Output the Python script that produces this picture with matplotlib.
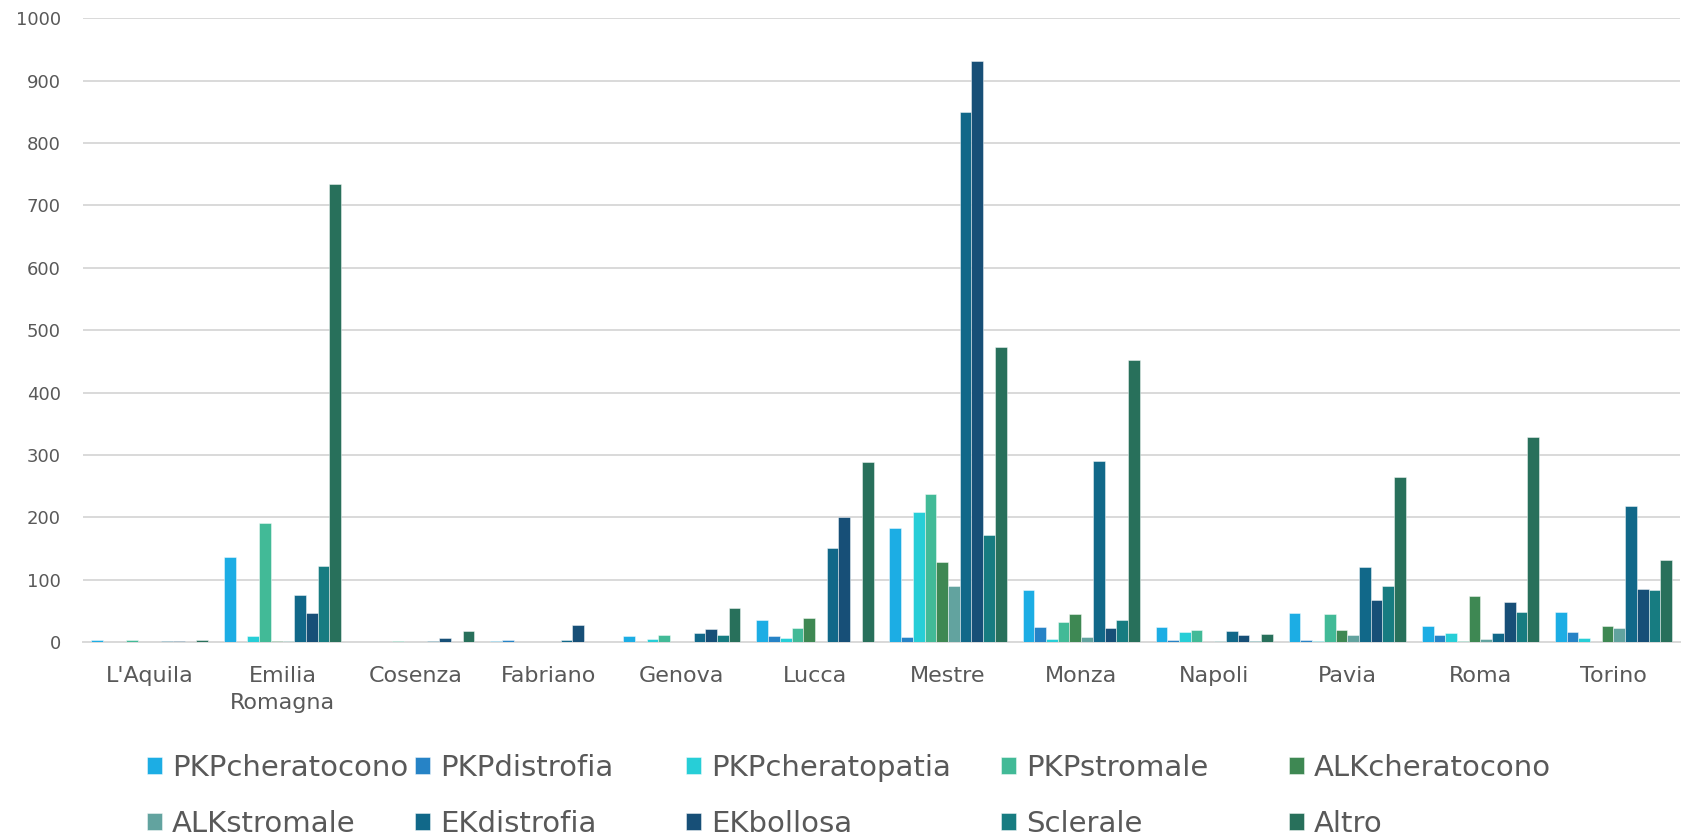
import matplotlib
matplotlib.use("Agg")
import matplotlib.pyplot as plt
import numpy as np

plt.rcParams['font.family'] = ['DejaVu Sans']

cities = ["L'Aquila", "Emilia\nRomagna", "Cosenza", "Fabriano", "Genova", "Lucca",
          "Mestre", "Monza", "Napoli", "Pavia", "Roma", "Torino"]

series_names = ["PKPcheratocono", "PKPdistrofia", "PKPcheratopatia", "PKPstromale",
                "ALKcheratocono", "ALKstromale", "EKdistrofia", "EKbollosa",
                "Sclerale", "Altro"]

pkp_cheratocono = [4, 136, 0, 1, 9, 36, 182, 83, 24, 46, 26, 48]
pkp_distrofia = [0, 0, 0, 4, 0, 10, 8, 24, 3, 4, 11, 16]
pkp_cheratopatia = [0, 10, 0, 0, 5, 7, 209, 5, 16, 1, 15, 6]
pkp_stromale = [3, 190, 1, 0, 12, 22, 237, 32, 20, 45, 2, 0]
alk_cheratocono = [0, 2, 0, 0, 0, 39, 128, 45, 0, 20, 74, 26]
alk_stromale = [0, 1, 0, 0, 0, 0, 89, 8, 1, 12, 5, 22]
ek_distrofia = [1, 75, 2, 3, 14, 150, 850, 290, 18, 120, 14, 218]
ek_bollosa = [1, 47, 7, 28, 21, 201, 932, 22, 12, 67, 64, 85]
sclerale = [0, 122, 0, 0, 11, 0, 172, 36, 2, 89, 48, 84]
altro = [4, 735, 18, 0, 54, 289, 473, 452, 13, 265, 329, 131]

values = [pkp_cheratocono, pkp_distrofia, pkp_cheratopatia, pkp_stromale,
          alk_cheratocono, alk_stromale, ek_distrofia, ek_bollosa, sclerale, altro]

colors = ["#1CADE4", "#2683C6", "#27CED7", "#42BA97", "#3E8853",
          "#62A39F", "#116889", "#174F77", "#177C81", "#28705B"]

W, H = 1690, 840
fig = plt.figure(figsize=(W / 100, H / 100), dpi=100)
ax = fig.add_axes([83 / W, 1 - 642 / H, (1680 - 83) / W, (642 - 18.3) / H])

x = np.arange(len(cities))
bw = 0.088
handles = []
for j, (name, vals, c) in enumerate(zip(series_names, values, colors)):
    b = ax.bar(x + (j - 4.5) * bw, vals, bw, color=c, label=name,
               edgecolor=(1, 1, 1, 0.45), linewidth=0.7, zorder=3)
    handles.append(b)

ax.set_xlim(-0.5, len(cities) - 0.5)
ax.set_ylim(0, 1000)
ax.set_yticks(np.arange(0, 1001, 100))
ax.set_xticks(x)
ax.set_xticklabels(cities, linespacing=1.45, fontsize=16)
ax.grid(axis='y', color='#d9d9d9', linewidth=1.4, zorder=0)
ax.set_axisbelow(True)
for s in ['top', 'right', 'left']:
    ax.spines[s].set_visible(False)
ax.spines['bottom'].set_color('#d9d9d9')
ax.spines['bottom'].set_linewidth(1.4)
ax.tick_params(axis='both', length=0, labelcolor='#595959')
ax.tick_params(axis='y', pad=16, labelsize=13)
ax.tick_params(axis='x', pad=17)

# legend entries placed one by one, two rows of five
col_x = [147, 415, 686, 1001, 1289]
row_y = [768, 824]
for k, (h, name) in enumerate(zip(handles, series_names)):
    r, cidx = divmod(k, 5)
    fig.legend([h], [name], loc='center left',
               bbox_to_anchor=(col_x[cidx] / W, 1 - row_y[r] / H),
               frameon=False, fontsize=21, labelcolor='#595959',
               handlelength=0.5, handleheight=0.5, handletextpad=0.35,
               borderpad=0, borderaxespad=0)

fig.savefig("out.png", dpi=100)
